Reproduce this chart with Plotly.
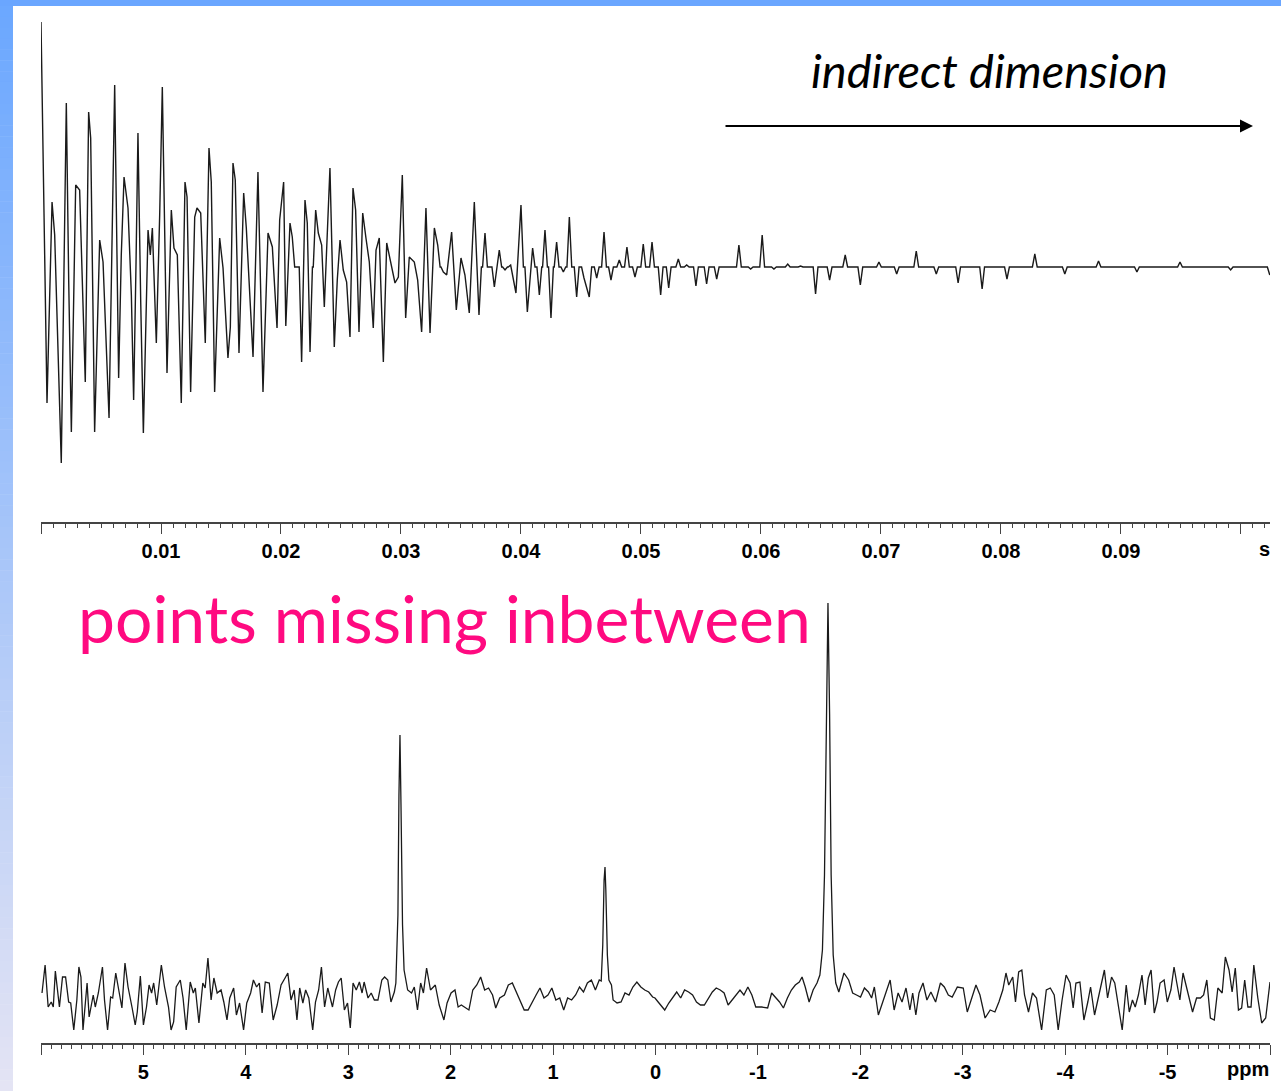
import numpy as np
import plotly.graph_objects as go

# ---------------- DATA ----------------
# Sparse-sampled FID (indirect dimension): sampled time points (ms) and intensity (a.u.)
fid_t_ms = [0.0, 0.5, 0.92, 1.14, 1.69, 2.11, 2.31, 2.53, 2.89, 3.22, 3.69, 3.97, 4.14, 4.47, 4.89, 5.17,
            5.67, 6.14, 6.47, 6.69, 6.92, 7.25, 7.53, 7.72, 7.92, 8.08, 8.31, 8.53, 8.92, 9.11, 9.28, 9.61,
            9.89, 10.11, 10.5, 10.86, 11.08, 11.36, 11.69, 12.0, 12.17, 12.47, 12.81, 13.0, 13.31, 13.69,
            14.0, 14.19, 14.47, 14.89, 15.17, 15.58, 15.78, 16.0, 16.19, 16.5, 16.89, 17.11, 17.67, 18.08,
            18.5, 18.92, 19.28, 19.67, 19.89, 20.22, 20.4, 20.75, 20.94, 21.72, 22.0, 22.19, 22.42, 22.89,
            23.11, 23.39, 23.61, 23.89, 24.08, 24.44, 24.69, 24.92, 25.19, 25.47, 25.75, 26.0, 26.22, 26.5,
            26.81, 27.08, 27.36, 27.69, 27.92, 28.19, 28.53, 28.81, 29.08, 29.5, 29.78, 30.11, 30.39, 30.69,
            31.11, 31.39, 31.72, 32.08, 32.42, 32.78, 33.06, 33.53, 33.81, 34.22, 34.61, 35.0, 35.33, 35.69,
            36.11, 36.5, 37.0, 37.78, 38.19, 38.67, 39.14, 39.58, 40.0, 40.53, 40.97, 41.53, 42.0, 42.5,
            42.97, 43.53, 44.03, 44.64, 45.25, 45.69, 46.31, 46.92, 47.5, 48.19, 48.83, 49.5, 50.19, 50.92,
            51.64, 52.31, 53.11, 53.81, 54.58, 55.47, 56.31, 58.16, 59.14, 60.1, 61.08, 62.23, 63.3, 64.55,
            65.72, 67.02, 68.28, 69.83, 71.31, 72.94, 74.61, 76.43, 78.43, 80.5, 82.82, 85.32, 88.13, 91.33,
            94.92, 99.14, 102.4]
fid_val = [245, -136, 65, 32, -196, 164, -15, -165, 82, 77, -115, 155, 129, -165, 27, 5,
           -151, 182, -111, 12, 90, 59, -28, -133, 5, 134, -35, -166, 37, 12, 39, -76,
           52, 180, -106, 57, 19, 12, -136, 85, 70, -125, 50, 59, 54, -76,
           119, 85, -125, 29, -1, -91, -60, 104, 87, -86, 74, 39, -90, 95,
           -125, 34, 20, -61, 47, 85, -59, 44, 30, -95, 67, 44, -85, 57,
           34, 22, -40, 39, 99, -80, -13, 27, -3, -15, -70, 79, 57, -65,
           54, 29, 5, -61, 17, 29, -95, 24, 7, -16, -10, 92, -51, 10,
           5, -13, -65, 59, -66, 39, 22, -5, -8, 35, -43, 9, -8, -46,
           65, -48, 34, -20, 17, -3, 2, -26, 62, -45, 19, -28, 37, -51,
           25, -5, 50, -30, -11, -30, -11, 35, -13, 7, 20, -10, 23, 25,
           -28, -21, 8, 2, -19, -17, -12, 22, -2, 32, -2, 3, 1, -27,
           -13, 12, -18, 5, -7, 16, -7, -16, -22, -12, 13, -7, 6, -5,
           5, -3, -8]
fid_dwell_ms = 0.2        # spacing of the (missing = zero) grid points
fid_dense_until_ms = 20.0  # densely sampled start of the schedule

# Spectrum (ppm, intensity a.u.)
spec_ppm = [5.99, 5.96, 5.93, 5.90, 5.88, 5.86, 5.82, 5.79, 5.76, 5.73, 5.71, 5.68, 5.65, 5.63, 5.61, 5.59,
            5.55, 5.53, 5.49, 5.47, 5.44, 5.40, 5.38, 5.35, 5.32, 5.30, 5.27, 5.24, 5.21, 5.18, 5.15, 5.11,
            5.08, 5.06, 5.03, 5.00, 4.97, 4.945, 4.92, 4.90, 4.87, 4.825, 4.794, 4.755, 4.73, 4.705, 4.68,
            4.64, 4.613, 4.582, 4.543, 4.513, 4.493, 4.458, 4.42, 4.397, 4.37, 4.339, 4.312, 4.28, 4.242,
            4.215, 4.184, 4.157, 4.119, 4.092, 4.061, 4.022, 3.991, 3.953, 3.926, 3.895, 3.868, 3.841, 3.81,
            3.771, 3.733, 3.694, 3.656, 3.617, 3.59, 3.559, 3.528, 3.501, 3.474, 3.443, 3.416, 3.385, 3.347,
            3.32, 3.289, 3.262, 3.231, 3.2, 3.154, 3.123, 3.096, 3.069, 3.038, 3.007, 2.98, 2.953, 2.922,
            2.891, 2.865, 2.845, 2.807, 2.776, 2.745, 2.71, 2.672, 2.645, 2.614, 2.583, 2.55, 2.535, 2.515,
            2.505, 2.495, 2.485, 2.47, 2.455, 2.44, 2.42, 2.382, 2.355, 2.324, 2.293, 2.266, 2.235, 2.197,
            2.15, 2.112, 2.066, 2.035, 1.996, 1.958, 1.927, 1.896, 1.861, 1.822, 1.784, 1.745, 1.707, 1.668,
            1.63, 1.591, 1.56, 1.521, 1.475, 1.437, 1.398, 1.36, 1.321, 1.282, 1.244, 1.205, 1.166, 1.128,
            1.089, 1.05, 1.012, 0.973, 0.935, 0.896, 0.858, 0.819, 0.78, 0.742, 0.703, 0.665, 0.626, 0.587,
            0.549, 0.53, 0.515, 0.502, 0.493, 0.485, 0.47, 0.455, 0.43, 0.414, 0.375, 0.336, 0.298, 0.259,
            0.221, 0.182, 0.143, 0.105, 0.066, 0.028, 0.005, -0.026, -0.05, -0.09, -0.13, -0.169, -0.207,
            -0.246, -0.284, -0.323, -0.362, -0.4, -0.439, -0.477, -0.516, -0.555, -0.593, -0.632, -0.67,
            -0.709, -0.748, -0.786, -0.825, -0.863, -0.902, -0.941, -0.979, -1.037, -1.095, -1.134, -1.172,
            -1.211, -1.249, -1.288, -1.327, -1.365, -1.404, -1.431, -1.462, -1.5, -1.539, -1.577, -1.605,
            -1.63, -1.65, -1.667, -1.684, -1.70, -1.715, -1.735, -1.76, -1.79, -1.84, -1.886, -1.925, -1.963,
            -2.002, -2.04, -2.079, -2.11, -2.137, -2.176, -2.214, -2.253, -2.291, -2.33, -2.369, -2.407,
            -2.446, -2.484, -2.511, -2.542, -2.573, -2.612, -2.65, -2.689, -2.735, -2.782, -2.82, -2.859,
            -2.897, -2.947, -3.005, -3.044, -3.083, -3.129, -3.168, -3.218, -3.268, -3.314, -3.353, -3.391,
            -3.422, -3.449, -3.488, -3.515, -3.546, -3.577, -3.603, -3.642, -3.681, -3.72, -3.77, -3.816,
            -3.855, -3.893, -3.932, -3.97, -4.009, -4.048, -4.078, -4.105, -4.144, -4.183, -4.221, -4.248,
            -4.287, -4.318, -4.349, -4.383, -4.414, -4.453, -4.484, -4.518, -4.557, -4.596, -4.626, -4.657,
            -4.684, -4.715, -4.75, -4.781, -4.812, -4.839, -4.87, -4.897, -4.927, -4.966, -4.997, -5.032,
            -5.063, -5.09, -5.12, -5.151, -5.186, -5.213, -5.244, -5.283, -5.321, -5.352, -5.383, -5.418,
            -5.456, -5.491, -5.533, -5.564, -5.6, -5.63, -5.661, -5.692, -5.723, -5.753, -5.784, -5.815,
            -5.842, -5.881, -5.919, -5.958, -6.0]
spec_int = [2, 30, -12, -7, -12, 24, -12, 18, 18, -7, -8, -35, -5, 28, 18, -35,
            12, -22, 0, -12, 2, 28, -5, -35, -2, -3, 22, 5, -13, 32, 8, -13,
            -30, -17, 19, -30, -12, 10, 2, 12, -10, 30, 8, -12, -35, -27, 8,
            15, -3, -35, 13, 2, 7, -28, 12, 7, 37, -5, 17, 2, 5,
            -7, -25, -3, 7, -20, -8, -35, -8, 2, 15, 8, 12, -18, 13,
            12, -25, -10, 10, 17, 22, -5, 5, -25, 7, -8, 5, -3, -35,
            -7, 5, 28, -12, 7, -12, 5, 13, 17, -15, -8, -33, 12, 5,
            13, 2, 13, -3, 2, -5, -5, 15, 18, 15, -7, 3, 12, 80,
            200, 260, 190, 70, 25, 15, 5, 2, 8, -15, 12, 2, 27, 5,
            10, -10, -25, -8, 2, 5, -12, -10, -12, -15, 5, 10, 18, 5,
            7, 0, -13, -3, 0, 10, 12, 3, -5, -15, -15, -7, 0, 7,
            -3, 0, 7, -5, -3, -15, -3, -5, 0, 8, 3, 12, 15, 5,
            15, 14, 50, 115, 128, 105, 40, 15, 10, -5, -8, -7, 2, 0,
            8, 13, 8, 5, 3, -2, -3, -7, -10, -15, -8, -3, 3,
            -3, 5, 3, 0, -7, -10, -10, -3, 3, 7, 5, 2, -10,
            -5, 0, 5, 0, 8, 0, -12, -12, -13, 2, -2,
            -7, -13, -3, 5, 10, 13, 18, 8, -7, 5, 12, 20,
            45, 120, 260, 392, 280, 120, 40, 12, 3, 22, 15, 2, 0,
            -2, 7, 3, -3, 8, -20, -8, 3, 15, -15, 2, -7,
            7, -15, 2, -20, 2, 12, -5, 3, -7, 12, 8, 0,
            -2, 8, 7, -17, -5, 10, 0, -23, -15, -17, -7, 5,
            22, 10, 18, -7, 23, 25, 0, -17, 2, -3, -35, 5,
            7, 0, -35, -5, 20, 12, -13, 12, 13, -25, -7, 8,
            -20, -5, 12, 25, -3, 18, 12, -10, -35, 10, -17, -5,
            -12, 0, 20, -10, 17, 25, -18, -7, 12, 15, -7, 5,
            28, 12, -5, 22, 8, -3, -17, -3, -3, 0, 15, -23,
            -25, 7, 2, 38, 25, 3, 27, -15, -13, 15, -12, -12,
            30, -3, -28, -23, 13]

fid_ticks = [0.01, 0.02, 0.03, 0.04, 0.05, 0.06, 0.07, 0.08, 0.09]
ppm_ticks = [5, 4, 3, 2, 1, 0, -1, -2, -3, -4, -5]

# ---------------- build FID trace (missing points = zeros) ----------------
fx, fy = [], []
prev = None
for t, v in zip(fid_t_ms, fid_val):
    gap_limit = (3.5 if t < fid_dense_until_ms else 2.2) * fid_dwell_ms
    if prev is not None and t - prev > gap_limit:
        fx += [(prev + fid_dwell_ms) / 1000, (t - fid_dwell_ms) / 1000]
        fy += [0, 0]
    fx.append(t / 1000)
    fy.append(v)
    prev = t

W, H = 1281, 1091
def px(x): return x / W
def py(y): return (H - y) / H

fig = go.Figure()
fig.add_trace(go.Scatter(x=fx, y=fy, mode="lines", line=dict(color="#1a1a1a", width=1.4),
                         xaxis="x", yaxis="y", hoverinfo="skip", showlegend=False))
fig.add_trace(go.Scatter(x=spec_ppm, y=spec_int, mode="lines", line=dict(color="#1a1a1a", width=1.3),
                         xaxis="x2", yaxis="y2", hoverinfo="skip", showlegend=False))

tickfont = dict(family="Liberation Sans, Arial, sans-serif", size=20, color="black", weight="bold")
common_x = dict(showgrid=False, zeroline=False, showline=True, linecolor="#444", linewidth=1.5,
                ticks="outside", ticklen=10, tickwidth=1.2, tickcolor="#444", tickfont=tickfont,
                ticklabelstandoff=0, fixedrange=True)

fig.update_layout(
    width=W, height=H, margin=dict(l=0, r=0, t=0, b=0),
    paper_bgcolor="white", plot_bgcolor="rgba(0,0,0,0)",
    xaxis=dict(domain=[px(41), px(1270)], range=[0, 0.10242], anchor="y",
               tickmode="array", tickvals=[0] + fid_ticks + [0.1],
               ticktext=[""] + ["%.2f" % v for v in fid_ticks] + [""],
               minor=dict(tickmode="linear", tick0=0, dtick=0.001, ticks="outside", ticklen=4,
                          tickwidth=1, tickcolor="#444"),
               **common_x),
    yaxis=dict(domain=[py(522), py(15)], range=[-255, 252], visible=False, fixedrange=True),
    xaxis2=dict(domain=[px(41), px(1270)], range=[6, -6], anchor="y2",
                tickmode="array", tickvals=[6] + ppm_ticks + [-6],
                ticktext=[""] + [str(v) for v in ppm_ticks] + [""],
                minor=dict(tickmode="linear", tick0=0, dtick=0.1, ticks="outside", ticklen=4,
                           tickwidth=1, tickcolor="#444"),
                **common_x),
    yaxis2=dict(domain=[py(1043), py(590)], range=[-48, 405], visible=False, fixedrange=True),
)

# slide frame (blue bars)
shapes = [dict(type="rect", xref="paper", yref="paper", x0=0, x1=1, y0=py(6), y1=1,
               fillcolor="#6aa6ff", line=dict(width=0), layer="below")]
n = 100
c0 = np.array([0x6c, 0xa8, 0xff]); c1 = np.array([0xe4, 0xe4, 0xf4])
for i in range(n):
    f = i / (n - 1)
    c = (c0 * (1 - f) + c1 * f).astype(int)
    y0 = 6 + (H - 6) * i / n
    y1 = 6 + (H - 6) * (i + 1) / n + 0.5
    shapes.append(dict(type="rect", xref="paper", yref="paper", x0=0, x1=px(13),
                       y0=max(0, py(y1)), y1=py(y0), fillcolor="rgb(%d,%d,%d)" % tuple(c),
                       line=dict(width=0), layer="below"))
fig.update_layout(shapes=shapes)

ann = [
    dict(text="s", x=px(1264), y=py(549), xref="paper", yref="paper", showarrow=False,
         font=tickfont, xanchor="center", yanchor="middle"),
    dict(text="ppm", x=px(1248), y=py(1069), xref="paper", yref="paper", showarrow=False,
         font=tickfont, xanchor="center", yanchor="middle"),
    dict(text="indirect dimension", x=px(989), y=py(70), xref="paper", yref="paper", showarrow=False,
         font=dict(family="Lato, sans-serif", size=47, color="black", style="italic"),
         xanchor="center", yanchor="middle"),
    dict(text="", x=px(1253), y=py(126), xref="paper", yref="paper", showarrow=True,
         ax=-529, ay=0, axref="pixel", ayref="pixel", arrowhead=2, arrowsize=1.3,
         arrowwidth=2, arrowcolor="black"),
    dict(text="points missing inbetween", x=px(76), y=py(617), xref="paper", yref="paper",
         showarrow=False, font=dict(family="Lato, sans-serif", size=66, color="#ff0a80"),
         xanchor="left", yanchor="middle"),
]
fig.update_layout(annotations=ann)

fig.write_html("out.html")
